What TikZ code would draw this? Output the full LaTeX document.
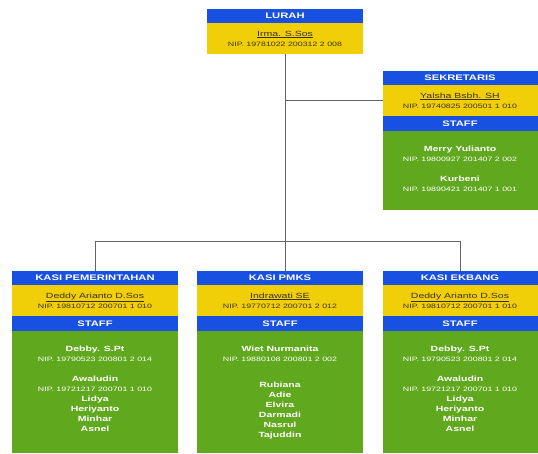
\documentclass[tikz,border=0pt]{standalone}
\usepackage{fontspec}
\setmainfont[FakeStretch=1.4]{Liberation Sans}
\definecolor{headblue}{RGB}{24,80,226}
\definecolor{nameyellow}{RGB}{240,206,8}
\definecolor{namedark}{RGB}{60,50,10}
\definecolor{staffgreen}{RGB}{96,168,30}
\definecolor{linegray}{RGB}{100,100,100}
\def\nip{\fontsize{6.3}{7}\selectfont\mdseries}

\begin{document}
\begin{tikzpicture}[
	x=1pt, y=1pt,
	every node/.style={outer sep=0pt, inner sep=0pt},
	head/.style={fill=headblue, text=white, font=\fontsize{8}{9}\selectfont\bfseries, minimum height=14pt},
	namebox/.style={fill=nameyellow, text=namedark, align=center, font=\fontsize{7.5}{10}\selectfont, minimum height=31pt},
	staffbody/.style={fill=staffgreen},
	stafftext/.style={text=white, align=center, font=\fontsize{7.5}{10}\selectfont\bfseries},
	link/.style={draw=linegray, line width=0.8pt},
]
\useasboundingbox (0,0) rectangle (538,-453);
% Input 1: box width.
\def\headbox#1[#2](#3)#4#5#6{
	\node[head, minimum width=#1, anchor=north, #2](#3){#4};
	\node[namebox, minimum width=#1, anchor=north] at (#3.south) (#3box)
		{\underline{#5}\\{\nip #6}};
}
% Input 1: box width, [#2]: options of the green part.
\def\staffbox#1[#2](#3)#4{
	\node[head, minimum width=#1, minimum height=15pt, anchor=north]
		at (#3box.south) (#3staff) {STAFF};
	\node[staffbody, minimum width=#1, anchor=north, #2] at (#3staff.south) (#3body) {};
	\node[stafftext, anchor=north, yshift=-15pt] at (#3body.north) (#3list) {#4};
}
	\headbox{156pt}[at={(285,-9)}](lurah){LURAH}{Irma. S.Sos}{NIP. 19781022 200312 2 008}

	\headbox{155pt}[at={(460,-71)}](sek){SEKRETARIS}{Yalsha Bsbh. SH}{NIP. 19740825 200501 1 010}
	\staffbox{155pt}[minimum height=79pt](sek){Merry Yulianto\\{\nip NIP. 19800927 201407 2 002}\\[10pt]
		Kurbeni\\{\nip NIP. 19890421 201407 1 001}}

	\headbox{166pt}[at={(95,-271)}](pem){KASI PEMERINTAHAN}{Deddy Arianto D.Sos}{NIP. 19810712 200701 1 010}
	\staffbox{166pt}[minimum height=122pt](pem){Debby. S.Pt\\{\nip NIP. 19790523 200801 2 014}\\[10pt]
		Awaludin\\{\nip NIP. 19721217 200701 1 010}\\Lidya\\Heriyanto\\Minhar\\Asnel}

	\headbox{166pt}[at={(280,-271)}](pmks){KASI PMKS}{Indrawati SE}{NIP. 19770712 200701 2 012}
	\staffbox{166pt}[minimum height=122pt](pmks){Wiet Nurmanita\\{\nip NIP. 19880108 200801 2 002}\\[16pt]
		Rubiana\\Adie\\Elvira\\Darmadi\\Nasrul\\Tajuddin}

	\headbox{155pt}[at={(460,-271)}](ekb){KASI EKBANG}{Deddy Arianto D.Sos}{NIP. 19810712 200701 1 010}
	\staffbox{155pt}[minimum height=122pt](ekb){Debby. S.Pt\\{\nip NIP. 19790523 200801 2 014}\\[10pt]
		Awaludin\\{\nip NIP. 19721217 200701 1 010}\\Lidya\\Heriyanto\\Minhar\\Asnel}

	\draw[link] (lurahbox.south) -- (lurahbox.south |- pmks.north);
	\draw[link] (lurahbox.south |- sekbox.west) -- (sekbox.west);
	\draw[link] (pem.north) -- ++(0,30) -| (ekb.north);
\end{tikzpicture}
\end{document}
